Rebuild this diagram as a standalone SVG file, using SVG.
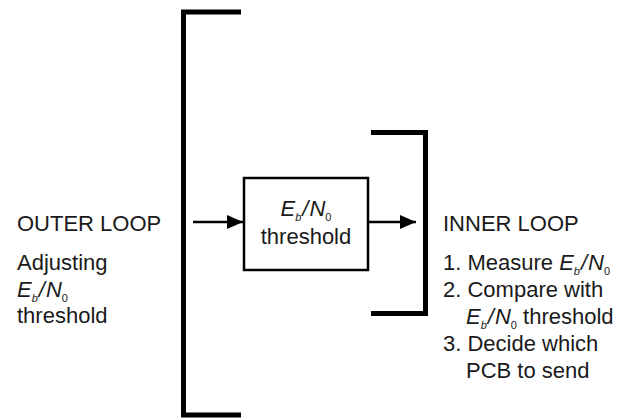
<svg xmlns="http://www.w3.org/2000/svg" width="621" height="419" viewBox="0 0 621 419">
<style>
text{font-family:"Liberation Sans",Arial,sans-serif;font-size:22px;fill:#1a1a1a}
.i{font-style:italic}
.s{font-size:11px}
.br{fill:none;stroke:#000;stroke-width:5;stroke-linecap:butt;stroke-linejoin:miter}
.ln{stroke:#000;stroke-width:2.5;fill:none}
</style>
<defs>
<marker id="a" viewBox="0 0 16 14" refX="16" refY="7" markerWidth="16" markerHeight="14" markerUnits="userSpaceOnUse" orient="auto">
<path d="M0,0 L16,7 L0,14 z" fill="#000"/>
</marker>
</defs>
<g id="outer-bracket">
<path class="br" d="M241,12 H183.5 V415 H241"/>
</g>
<g id="inner-bracket">
<path class="br" d="M371,132.5 H425.5 V313.5 H371"/>
</g>
<g id="threshold-box">
<rect x="244" y="178" width="124" height="92" fill="#fff" stroke="#000" stroke-width="2.5"/>
<text x="306" y="216" text-anchor="middle"><tspan class="i">E</tspan><tspan class="i s" dy="5">b</tspan><tspan class="i" dy="-5" dx="1">/</tspan><tspan class="i" dx="1">N</tspan><tspan class="s" dy="5">0</tspan></text>
<text x="306" y="244" text-anchor="middle">threshold</text>
</g>
<g id="outer-loop-label">
<text x="17" y="231">OUTER LOOP</text>
<text x="17" y="270">Adjusting</text>
<text x="17" y="297"><tspan class="i">E</tspan><tspan class="i s" dy="5">b</tspan><tspan class="i" dy="-5" dx="1">/</tspan><tspan class="i" dx="1">N</tspan><tspan class="s" dy="5">0</tspan></text>
<text x="17" y="323">threshold</text>
</g>
<g id="inner-loop-label">
<text x="443" y="231">INNER LOOP</text>
<text x="443" y="270">1. Measure <tspan class="i">E</tspan><tspan class="i s" dy="5">b</tspan><tspan class="i" dy="-5" dx="1">/</tspan><tspan class="i" dx="1">N</tspan><tspan class="s" dy="5">0</tspan></text>
<text x="443" y="297">2. Compare with</text>
<text x="466" y="324"><tspan class="i">E</tspan><tspan class="i s" dy="5">b</tspan><tspan class="i" dy="-5" dx="1">/</tspan><tspan class="i" dx="1">N</tspan><tspan class="s" dy="5">0</tspan><tspan dy="-5"> threshold</tspan></text>
<text x="443" y="351">3. Decide which</text>
<text x="466" y="378">PCB to send</text>
</g>
<g id="connectors">
<line class="ln" x1="193" y1="222" x2="243" y2="222" marker-end="url(#a)"/>
<line class="ln" x1="368" y1="222" x2="416" y2="222" marker-end="url(#a)"/>
</g>
</svg>
